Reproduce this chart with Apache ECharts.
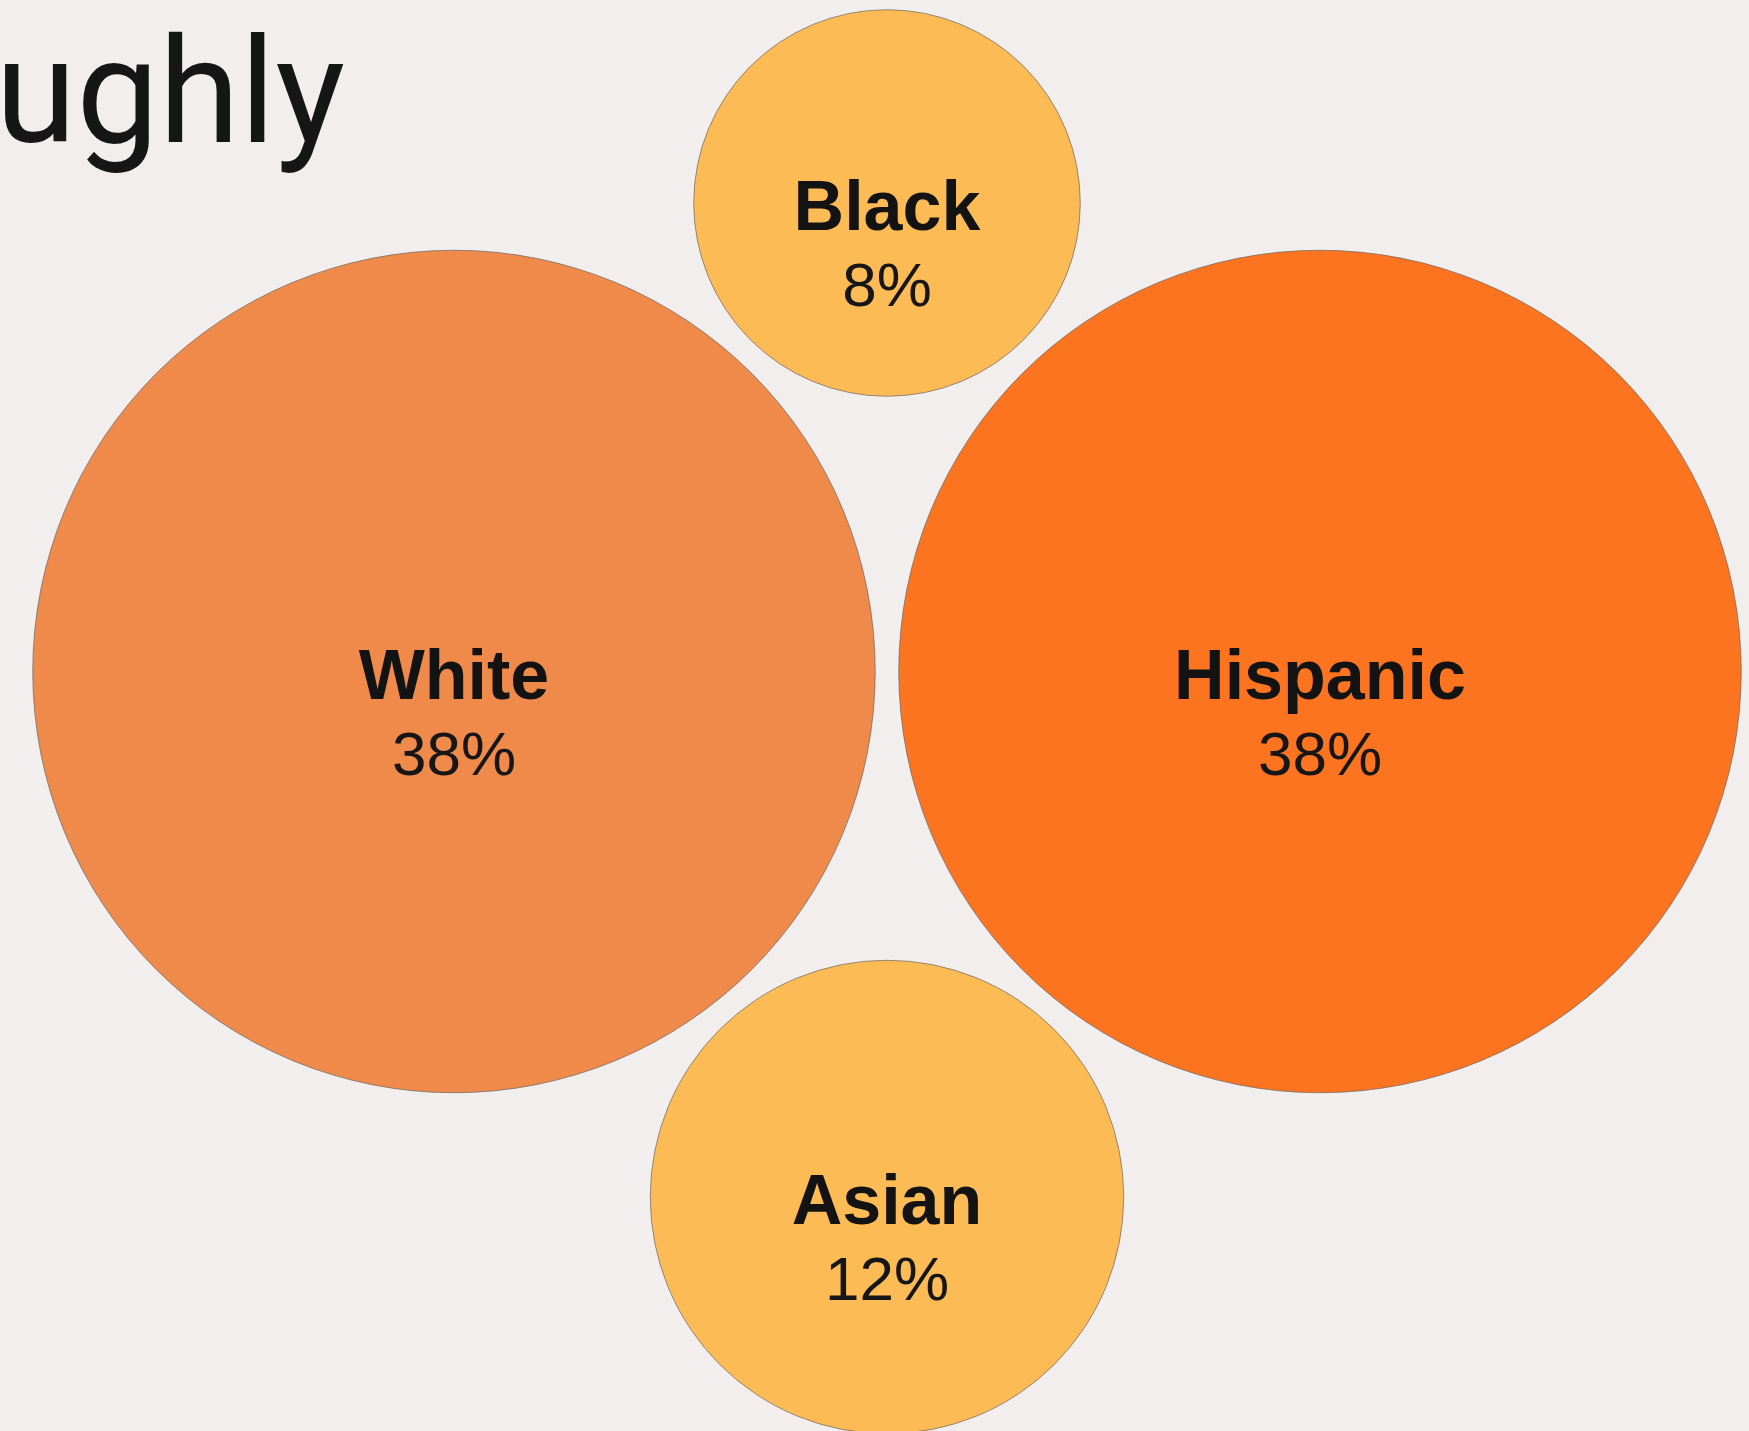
<!DOCTYPE html>
<html>
<head>
<meta charset="utf-8">
<script src="https://cdn.jsdelivr.net/npm/echarts@6/dist/echarts.min.js"></script>
<style>
  html, body { margin: 0; padding: 0; background: #F1EEED; }
  #chart { width: 1749px; height: 1431px; }
</style>
</head>
<body>
<div id="chart"></div>
<script>
// ---- data ----
const categories = ['White', 'Hispanic', 'Black', 'Asian'];
const shares = [38, 38, 8, 12];            // percent
const titleText = 'roughly';

// ---- layout (packed bubble positions, canvas units) ----
const layoutX = [454, 1320, 887, 887];
const layoutY = [671.5, 671.5, 203, 1197];
const fillColors = ['#EF8A4B', '#FD7420', '#FDBB55', '#FDBB55'];
const AREA_PER_UNIT = 4670;   // px^2 of circle area per percent point

const chart = echarts.init(document.getElementById('chart'));

const seriesData = categories.map((c, i) => ({
  name: c,
  value: [layoutX[i], layoutY[i], shares[i]],
  itemStyle: { color: fillColors[i] }
}));

chart.setOption({
  backgroundColor: '#F1EEED',
  animation: false,
  grid: { left: 0, right: 0, top: 0, bottom: 0 },
  xAxis: { type: 'value', min: 0, max: 1749, show: false },
  yAxis: { type: 'value', min: 0, max: 1431, inverse: true, show: false },
  graphic: [{
    type: 'text',
    x: 345,
    y: 32,
    style: {
      text: titleText,
      fontSize: 147,
      fontFamily: 'Roboto',
      fontWeight: 400,
      fill: '#161616',
      align: 'right',
      verticalAlign: 'top'
    }
  }],
  series: [{
    type: 'scatter',
    symbol: 'circle',
    data: seriesData,
    symbolSize: (val) => 2 * Math.sqrt(AREA_PER_UNIT * val[2]),
    itemStyle: {
      borderColor: 'rgba(95,95,95,0.65)',
      borderWidth: 1,
      opacity: 1
    },
    label: {
      show: true,
      position: 'inside',
      offset: [0, 47],
      formatter: (p) => '{n|' + p.name + '}\n{v|' + p.value[2] + '%}',
      rich: {
        n: { fontSize: 70, fontWeight: 'bold', fontFamily: 'Liberation Sans', color: '#131313', lineHeight: 78, align: 'center' },
        v: { fontSize: 62, fontWeight: 'normal', fontFamily: 'Liberation Sans', color: '#161616', lineHeight: 78, align: 'center' }
      }
    },
    emphasis: { disabled: true }
  }]
});
</script>
</body>
</html>
